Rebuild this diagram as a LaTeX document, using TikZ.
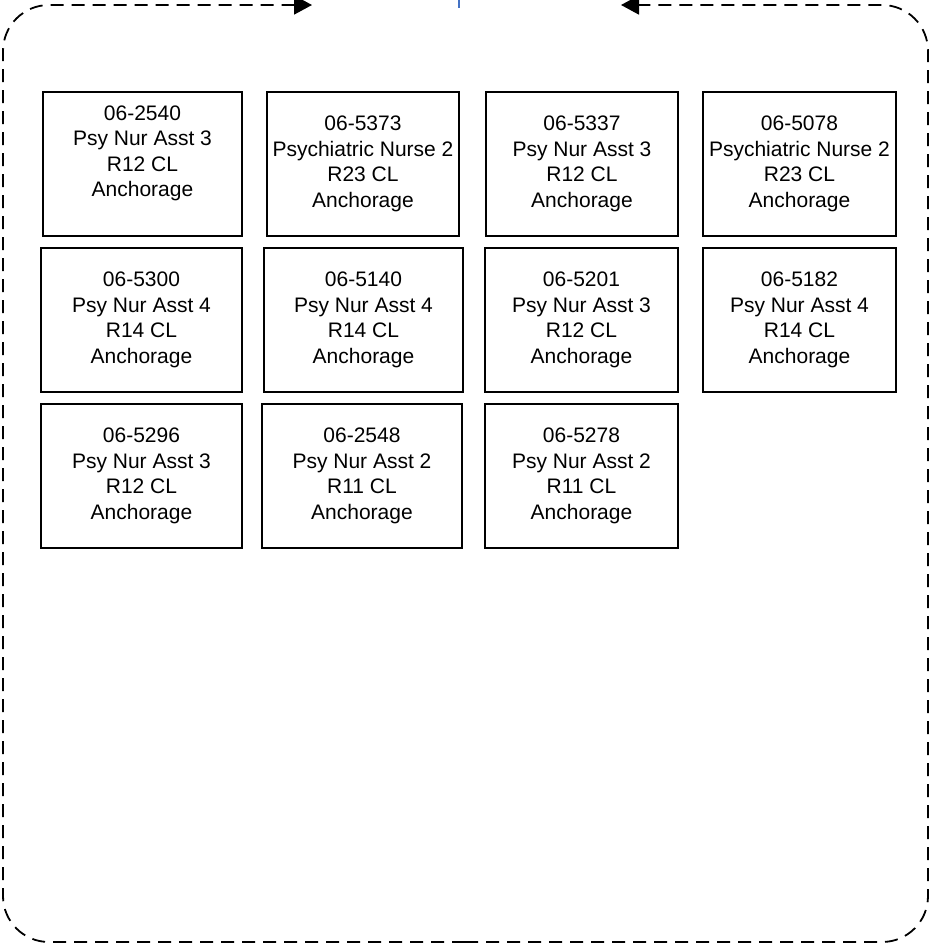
\documentclass[tikz,border=0pt]{standalone}
\usepackage{fontspec}
\setmainfont{Liberation Sans}
\usepackage{tikz}
\usetikzlibrary{arrows.meta, positioning}
\definecolor{cLink}{RGB}{68,114,196}
\tikzset{
	post/.style   ={rectangle, draw=black, line width=1.8pt, inner sep=0pt, align=center, minimum height=144pt, font=\fontsize{21}{25.5}\selectfont},
	frame/.style  ={draw=black, line width=1.8pt, dash pattern=on 13pt off 8pt, rounded corners=46pt},
	tip/.style    ={-{Triangle[length=18pt, width=19pt]}},
	uplink/.style ={draw=cLink, line width=1.6pt},
}

\begin{document}
\begin{tikzpicture}[x=1pt, y=-1pt]
	\useasboundingbox (0,0) rectangle (930,948);
	% first row
	\node[post, minimum width=199pt] (p2540) at (142.5,164) {06-2540\\Psy Nur Asst 3\\R12 CL\\Anchorage\\\mbox{}};
	\node[post, minimum width=192pt] (p5373) at (363,164) {06-5373\\Psychiatric Nurse 2\\R23 CL\\Anchorage};
	\node[post, minimum width=192pt] (p5337) at (582,164) {06-5337\\Psy Nur Asst 3\\R12 CL\\Anchorage};
	\node[post, minimum width=193pt] (p5078) at (799.5,164) {06-5078\\Psychiatric Nurse 2\\R23 CL\\Anchorage};
	% second row
	\node[post, minimum width=201pt] (p5300) at (141.5,320) {06-5300\\Psy Nur Asst 4\\R14 CL\\Anchorage};
	\node[post, minimum width=199pt] (p5140) at (363.5,320) {06-5140\\Psy Nur Asst 4\\R14 CL\\Anchorage};
	\node[post, minimum width=193pt] (p5201) at (581.5,320) {06-5201\\Psy Nur Asst 3\\R12 CL\\Anchorage};
	\node[post, minimum width=193pt] (p5182) at (799.5,320) {06-5182\\Psy Nur Asst 4\\R14 CL\\Anchorage};
	% third row
	\node[post, minimum width=201pt] (p5296) at (141.5,476) {06-5296\\Psy Nur Asst 3\\R12 CL\\Anchorage};
	\node[post, minimum width=200pt] (p2548) at (362,476) {06-2548\\Psy Nur Asst 2\\R11 CL\\Anchorage};
	\node[post, minimum width=193pt] (p5278) at (581.5,476) {06-5278\\Psy Nur Asst 2\\R11 CL\\Anchorage};
	% dashed surround with the two inward arrows
	\coordinate (fbot) at (465,942);
	\coordinate (ltip) at (312,5);
	\coordinate (rtip) at (621,5);
	\draw[frame, tip] (fbot) -| (3,5) -- (ltip);
	\draw[frame, tip] (fbot) -| (928,5) -- (rtip);
	% link stub from above
	\coordinate (ltop) at (459,0);
	\coordinate (lend) at (459,8);
	\draw[uplink] (ltop) -- (lend);
\end{tikzpicture}
\end{document}
